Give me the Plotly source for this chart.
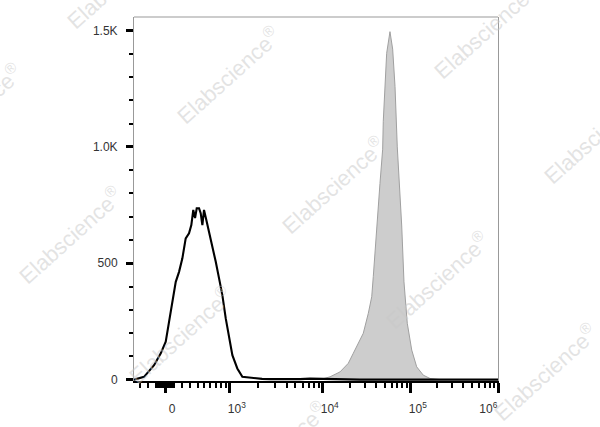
import numpy as np
import plotly.graph_objects as go

# ---------------- data (fluorescence intensity, cell counts) ----------------
unstained_x = [-400, -379, -248, -127, -49, 8, 46, 84, 124, 163, 203, 244, 286, 316, 342,
               366, 389, 422, 446, 471, 496, 539, 577, 634, 696, 760, 828, 903, 982, 1066,
               1204, 1361, 1601, 1849, 2192, 2664, 3406, 4366, 5612, 7228, 9330, 12070,
               15600, 20220, 26250, 100000, 1000000]
unstained_y = [0, 0, 12, 62, 113, 163, 248, 334, 420, 463, 521, 607, 629, 664, 729,
               694, 736, 736, 715, 664, 729, 678, 635, 578, 506, 435, 363, 263, 177, 105,
               48, 12, 9, 5, 3, 2, 1, 3, 2, 4, 3, 2,
               2, 1, 0, 0, 0]

stained_x = [9330, 12070, 15600, 19360, 22040, 25130, 28610, 32650, 35690, 37180, 38910,
             41290, 44320, 47580, 48340, 52850, 55000, 57650, 61890, 65840, 69870, 73660,
             78530, 83360, 90940, 102240, 116520, 138730, 165570, 215700]
stained_y = [0, 12, 33, 70, 113, 156, 199, 285, 356, 442, 557,
             700, 843, 990, 1110, 1402, 1445, 1495, 1420, 1259, 1000, 843,
             660, 420, 242, 127, 55, 19, 5, 0]

x_major_vals = [0, 1e3, 1e4, 1e5, 1e6]
x_major_text = ["0", "10<sup>3</sup>", "10<sup>4</sup>", "10<sup>5</sup>",
                "10<sup>6</sup>" + "\u00a0" * 10]
x_minor_vals = ([-300, -200, -100, -90, -80, -70, -60, -50, -40, -30, -20, -10,
                 10, 20, 30, 40, 50, 60, 70, 80, 90, 100, 200, 300, 400, 500, 600, 700, 800, 900]
                + [m * 10 ** k for k in (3, 4, 5) for m in range(2, 10)])
y_major_vals = [0, 500, 1000, 1500]
y_major_text = ["0", "500", "1.0K", "1.5K"]
y_minor_vals = [100, 200, 300, 400, 600, 700, 800, 900, 1100, 1200, 1300, 1400]

X_MIN, X_MAX = -380, 1e6
Y_MIN, Y_MAX = -6, 1558

# ---------------- biexponential (logicle-like) display transform ----------------
P = 1.92
K = 1e6 / 10 ** 3.828
_u = np.linspace(-1.5, 4.5, 60001)
_a = np.abs(_u)
_x = np.sign(_u) * K * (10 ** _a - P ** 2 * 10 ** (-_a / P) + P ** 2 - 1)


def biex(v):
    return np.interp(np.asarray(v, dtype=float), _x, _u)


fig = go.Figure()
fig.add_trace(go.Scatter(
    x=biex(stained_x), y=stained_y, mode="lines", fill="tozeroy",
    fillcolor="rgb(205,205,205)", line=dict(color="rgb(160,160,160)", width=1),
    hoverinfo="skip"))
fig.add_trace(go.Scatter(
    x=biex(unstained_x), y=unstained_y, mode="lines",
    line=dict(color="black", width=2.1), hoverinfo="skip"))

tickfont = dict(family="Liberation Sans, Arial, sans-serif", size=12, color="#333")

fig.update_xaxes(
    range=[float(biex(X_MIN)), float(biex(X_MAX))],
    tickmode="array", tickvals=biex(x_major_vals), ticktext=x_major_text,
    ticks="outside", ticklen=10, tickwidth=2.5, tickcolor="black",
    minor=dict(tickmode="array", tickvals=biex(x_minor_vals), ticks="outside",
               ticklen=5, tickwidth=1.5, tickcolor="black", showgrid=False),
    showgrid=False, zeroline=False, showline=True, linecolor="black", linewidth=2,
    tickfont=tickfont, ticklabelshift=7, ticklabelstandoff=6)
fig.update_yaxes(
    range=[Y_MIN, Y_MAX],
    tickmode="array", tickvals=y_major_vals, ticktext=y_major_text,
    ticks="outside", ticklen=7, tickwidth=2.5, tickcolor="black",
    minor=dict(tickmode="array", tickvals=y_minor_vals, ticks="outside",
               ticklen=4, tickwidth=2, tickcolor="black", showgrid=False),
    showgrid=False, zeroline=False, showline=True, linecolor="#999", linewidth=1,
    mirror=True, tickfont=tickfont, ticklabelstandoff=6)

# top frame line
fig.add_shape(type="line", xref="paper", yref="paper", x0=0, x1=1, y0=1, y1=1,
              line=dict(color="#999", width=1))

# watermark
L, R, T, B = 134, 498, 17, 381
wm_centers = [(118, -20), (228, 75), (485, 30), (-30, 112), (333, 185), (595, 135),
              (70, 235), (437, 280), (180, 335), (545, 372), (275, 450)]
for cx, cy in wm_centers:
    fig.add_annotation(
        x=(cx - L) / (R - L), y=(B - cy) / (B - T), xref="paper", yref="paper",
        xanchor="center", yanchor="middle",
        text="Elabscience<sup>®</sup>", showarrow=False, textangle=-42,
        font=dict(family="Liberation Sans, Arial, sans-serif", size=22,
                  color="rgba(200,200,200,0.5)"))

fig.update_layout(
    width=600, height=427,
    margin=dict(l=L, r=600 - R, t=T, b=427 - B, pad=0),
    paper_bgcolor="white", plot_bgcolor="white", showlegend=False)

fig.write_html("out.html", config={"displayModeBar": False},
               post_script="document.body.style.margin='0';")
